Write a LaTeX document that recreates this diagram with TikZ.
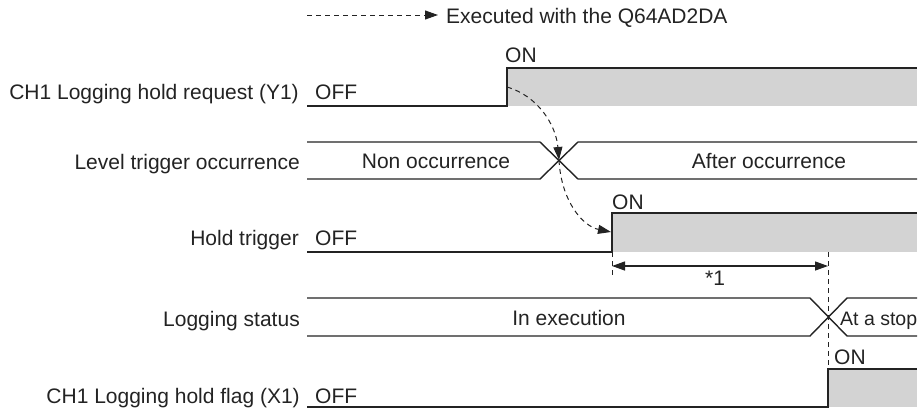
\documentclass[tikz,border=0pt]{standalone}
\usepackage{fontspec}
\setmainfont{Liberation Sans}
\usetikzlibrary{arrows.meta}
\definecolor{fillgray}{RGB}{211,211,211}
\definecolor{linegray}{RGB}{35,35,35}
\begin{document}
\begin{tikzpicture}[x=1pt,y=-1pt,
  font=\fontsize{21}{25}\selectfont,
  wave/.style={draw=linegray, line width=1.4pt},
  onfill/.style={fill=fillgray},
  lbl/.style={anchor=base east, inner sep=0pt, text=linegray},
  txt/.style={anchor=base west, inner sep=0pt, text=linegray},
  ctxt/.style={anchor=base, inner sep=0pt, text=linegray},
  dsh/.style={draw=linegray, line width=1pt, dash pattern=on 5pt off 4pt},
  tipend/.style={-{Triangle[length=13pt,width=9pt]}},
  tipboth/.style={{Triangle[length=13pt,width=9pt]}-{Triangle[length=13pt,width=9pt]}}]
\useasboundingbox (0,0) rectangle (920,408);

% legend
\coordinate (legA) at (307,15);
\coordinate (legB) at (438,15);
\draw[dsh,tipend] (legA) -- (legB);
\node[txt] (legT) at (446,23) {Executed with the Q64AD2DA};

% row labels
\node[lbl] (l1) at (299,99) {CH1 Logging hold request (Y1)};
\node[lbl] (l2) at (300,169) {Level trigger occurrence};
\node[lbl] (l3) at (299,245) {Hold trigger};
\node[lbl] (l4) at (300,326) {Logging status};
\node[lbl] (l5) at (300,403) {CH1 Logging hold flag (X1)};

% row 1: Y1
\fill[onfill] (507,68) rectangle (917,106);
\draw[wave] (307,106) -- (507,106) -- (507,68) -- (917,68);
\node[txt] (off1) at (315,99) {OFF};
\node[txt] (on1) at (505,62) {ON};

% row 2: level trigger
\draw[wave] (307,142) -- (540,142) -- (578,179) -- (917,179);
\draw[wave] (307,179) -- (540,179) -- (578,142) -- (917,142);
\node[ctxt] (nonocc) at (436,168) {Non occurrence};
\node[ctxt] (aftocc) at (769,168) {After occurrence};

% row 3: hold trigger
\fill[onfill] (612,213) rectangle (917,252);
\draw[wave] (307,252) -- (612,252) -- (612,213) -- (917,213);
\node[txt] (off3) at (315,245) {OFF};
\node[txt] (on3) at (612,209) {ON};

% row 4: logging status
\draw[wave] (307,298) -- (810,298) -- (847,336) -- (917,336);
\draw[wave] (307,336) -- (810,336) -- (847,298) -- (917,298);
\node[ctxt] (inexec) at (569,325) {In execution};
\node[txt, font=\fontsize{19.5}{24}\selectfont] (stop) at (840,325) {At a stop};

% row 5: X1
\fill[onfill] (828,369) rectangle (917,407);
\draw[wave] (307,407) -- (828,407) -- (828,369) -- (917,369);
\node[txt] (off5) at (315,403) {OFF};
\node[txt] (on5) at (834,364) {ON};

% causal dashed arrows
\coordinate (rise1) at (507,87);
\coordinate (cross2) at (559,160);
\coordinate (rise3) at (611,232);
\draw[dsh,tipend] (rise1) .. controls (538,96) and (556,125) .. (cross2);
\draw[dsh,tipend] (cross2) .. controls (561,200) and (582,226) .. (rise3);

% dimension *1
\coordinate (d1t) at (612,252);
\coordinate (d1b) at (612,278);
\coordinate (d2t) at (828,252);
\coordinate (d2b) at (828,369);
\draw[dsh] (d1t) -- (d1b);
\draw[dsh] (d2t) -- (d2b);
\coordinate (dimL) at (612,266);
\coordinate (dimR) at (828,266);
\draw[draw=linegray, line width=1.3pt, tipboth] (dimL) -- (dimR);
\node[ctxt] (star1) at (715,285) {*1};
\end{tikzpicture}
\end{document}
